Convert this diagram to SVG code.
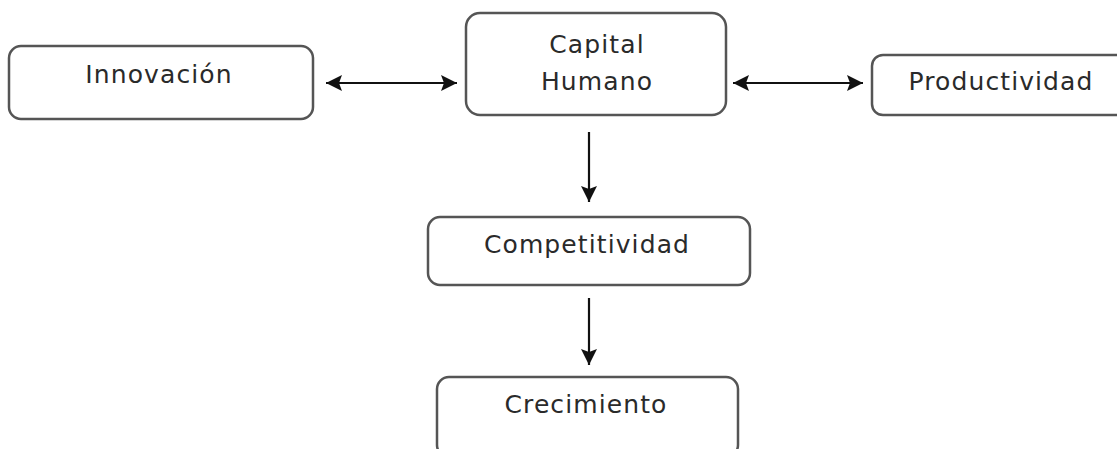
<svg xmlns="http://www.w3.org/2000/svg" width="1117" height="449" viewBox="0 0 1117 449">
<style>
.box{fill:#fff;stroke:#555;stroke-width:2.5}
.lbl{font-family:"DejaVu Sans","Verdana",sans-serif;font-size:25px;letter-spacing:1.1px;fill:#2a2a2a;text-anchor:middle}
.conn{stroke:#111;stroke-width:2.2;fill:none}
</style>
<defs>
<marker id="ah" markerUnits="userSpaceOnUse" markerWidth="18" markerHeight="18" refX="16" refY="8" orient="auto-start-reverse">
<path d="M0,0 L16,8 L0,16 L3,8 Z" fill="#111"/>
</marker>
</defs>
<rect width="1117" height="449" fill="#fff"/>
<g id="innovacion">
<rect class="box" x="9" y="46" width="304" height="73" rx="12"/>
<text class="lbl" x="159" y="83">Innovación</text>
</g>
<g id="capital-humano">
<rect class="box" x="466" y="13" width="260" height="102" rx="14"/>
<text class="lbl" x="597" y="53">Capital</text>
<text class="lbl" x="597" y="90">Humano</text>
</g>
<g id="productividad">
<rect class="box" x="872" y="55" width="260" height="60" rx="11"/>
<text class="lbl" x="1001" y="90">Productividad</text>
</g>
<g id="competitividad">
<rect class="box" x="428" y="217" width="322" height="68" rx="12"/>
<text class="lbl" x="587" y="253">Competitividad</text>
</g>
<g id="crecimiento">
<rect class="box" x="437" y="377" width="301" height="80" rx="12"/>
<text class="lbl" x="586" y="413">Crecimiento</text>
</g>
<g id="connectors">
<line class="conn" x1="326" y1="83" x2="457" y2="83" marker-start="url(#ah)" marker-end="url(#ah)"/>
<line class="conn" x1="733" y1="83" x2="863" y2="83" marker-start="url(#ah)" marker-end="url(#ah)"/>
<line class="conn" x1="589" y1="132" x2="589" y2="202" marker-end="url(#ah)"/>
<line class="conn" x1="589" y1="298" x2="589" y2="365" marker-end="url(#ah)"/>
</g>
</svg>
